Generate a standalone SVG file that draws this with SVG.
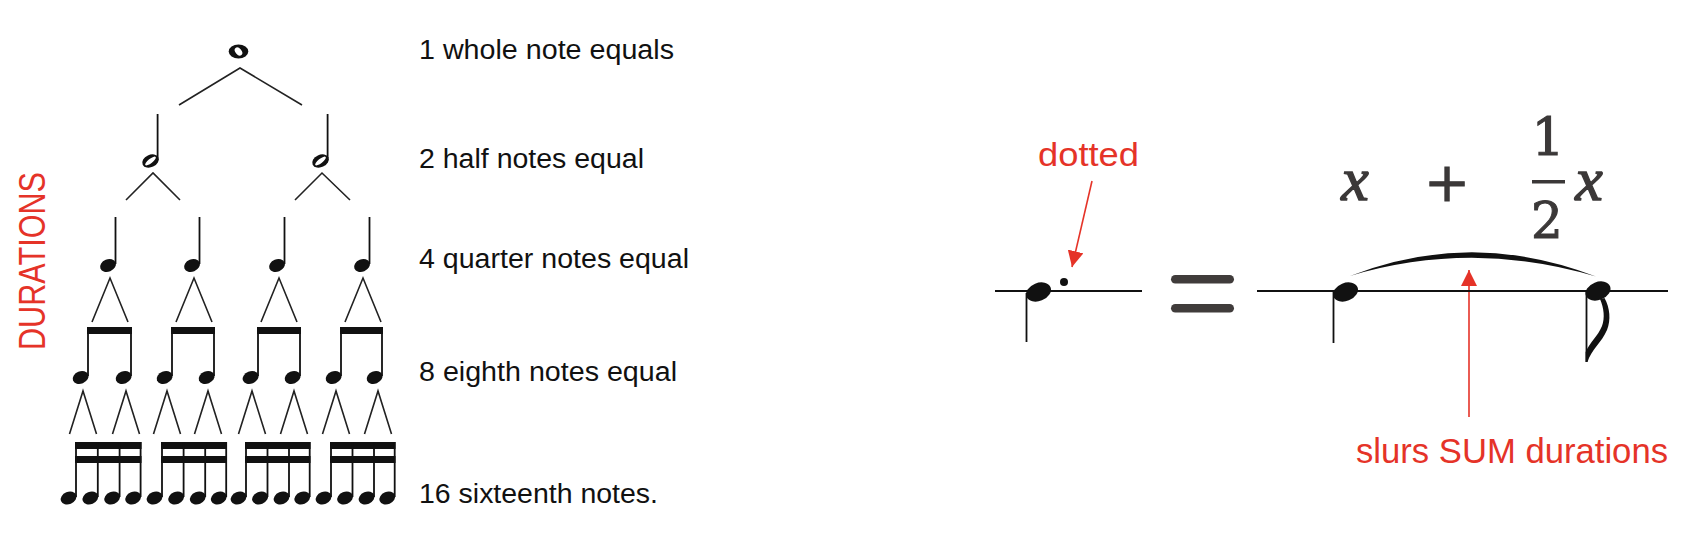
<svg xmlns="http://www.w3.org/2000/svg" xmlns:xlink="http://www.w3.org/1999/xlink" width="1690" height="546" viewBox="0 0 1690 546">
<style>
  .lbl{font-family:"Liberation Sans",Arial,sans-serif;font-size:27px;fill:#111}
  .red{font-family:"Liberation Sans",Arial,sans-serif;fill:#E53328}
  .stem{stroke:#111;stroke-width:1.8;fill:none}
  .conn{stroke:#222;stroke-width:1.6;fill:none;stroke-linejoin:miter}
  .ink{fill:#111}
  .beam{fill:#111}
  .staff{stroke:#111;stroke-width:2;fill:none}
  .math{fill:#3b3838;stroke:#3b3838}
  .arrow{stroke:#E53328;stroke-width:1.6;fill:none}
</style>
<defs>
  <ellipse id="h" rx="8.2" ry="6.1" transform="rotate(-22)" class="ink"/>
  <ellipse id="H" rx="13" ry="9" transform="rotate(-22)" class="ink"/>
  <marker id="ah" viewBox="0 0 16 16" refX="16" refY="8" markerWidth="16" markerHeight="16" markerUnits="userSpaceOnUse" orient="auto">
    <path d="M0,0 L16,8 L0,16 z" fill="#E53328"/>
  </marker>
</defs>
<rect width="1690" height="546" fill="#fff"/>

<text class="red" font-size="37" transform="translate(45,350) rotate(-90)" textLength="178" lengthAdjust="spacingAndGlyphs">DURATIONS</text>

<g id="connectors">
  <path class="conn" d="M179,105 L240,68 L302,105"/>
  <path class="conn" d="M126,200 L153,173 L180,200 M295,200 L322,173 L350,200"/>
  <path class="conn" d="M92,322 L110,278 L128,322 M176,322 L194,278 L212,322 M261,322 L279,278 L297,322 M345,322 L363,278 L381,322"/>
  <path class="conn" d="M69.5,434 L83,391 L96.5,434 M112.5,434 L126,391 L139.5,434 M153.5,434 L167,391 L180.5,434 M194.5,434 L208,391 L221.5,434 M238.5,434 L252,391 L265.5,434 M280.5,434 L294,391 L307.5,434 M322.5,434 L336,391 L349.5,434 M364.5,434 L378,391 L391.5,434"/>
  <line class="arrow" x1="1092" y1="181" x2="1072" y2="267" marker-end="url(#ah)"/>
  <line class="arrow" x1="1469" y1="417" x2="1469" y2="270" marker-end="url(#ah)"/>
</g>

<g id="whole-note">
  <ellipse cx="238.5" cy="51.5" rx="9.8" ry="7" class="ink"/>
  <ellipse cx="238.5" cy="51.5" rx="3" ry="4.6" transform="rotate(-40 238.5 51.5)" fill="#fff"/>
</g>

<g id="half-note-1">
  <ellipse cx="150.5" cy="161" rx="8.6" ry="6.2" transform="rotate(-25 150.5 161)" class="ink"/>
  <ellipse cx="150.5" cy="161" rx="6.6" ry="2.2" transform="rotate(-38 150.5 161)" fill="#fff"/>
  <line class="stem" x1="157.6" y1="114" x2="157.6" y2="160"/>
</g>
<g id="half-note-2">
  <ellipse cx="320.5" cy="161" rx="8.6" ry="6.2" transform="rotate(-25 320.5 161)" class="ink"/>
  <ellipse cx="320.5" cy="161" rx="6.6" ry="2.2" transform="rotate(-38 320.5 161)" fill="#fff"/>
  <line class="stem" x1="327.6" y1="114" x2="327.6" y2="160"/>
</g>

<g id="quarter-note-1"><line class="stem" x1="115.5" y1="217" x2="115.5" y2="264"/><use xlink:href="#h" href="#h" x="108" y="265.5"/></g>
<g id="quarter-note-2"><line class="stem" x1="199.5" y1="217" x2="199.5" y2="264"/><use xlink:href="#h" href="#h" x="192" y="265.5"/></g>
<g id="quarter-note-3"><line class="stem" x1="284.5" y1="217" x2="284.5" y2="264"/><use xlink:href="#h" href="#h" x="277" y="265.5"/></g>
<g id="quarter-note-4"><line class="stem" x1="369.5" y1="217" x2="369.5" y2="264"/><use xlink:href="#h" href="#h" x="362" y="265.5"/></g>

<g id="eighth-pair-1">
  <rect class="beam" x="87" y="327" width="45" height="7"/>
  <path class="stem" d="M88,327 V376 M131,327 V376"/>
  <use xlink:href="#h" href="#h" x="80.6" y="377.5"/><use xlink:href="#h" href="#h" x="123.6" y="377.5"/>
</g>
<g id="eighth-pair-2">
  <rect class="beam" x="171" y="327" width="44" height="7"/>
  <path class="stem" d="M172,327 V376 M214,327 V376"/>
  <use xlink:href="#h" href="#h" x="164.6" y="377.5"/><use xlink:href="#h" href="#h" x="206.6" y="377.5"/>
</g>
<g id="eighth-pair-3">
  <rect class="beam" x="257" y="327" width="44" height="7"/>
  <path class="stem" d="M258,327 V376 M300,327 V376"/>
  <use xlink:href="#h" href="#h" x="250.6" y="377.5"/><use xlink:href="#h" href="#h" x="292.6" y="377.5"/>
</g>
<g id="eighth-pair-4">
  <rect class="beam" x="340" y="327" width="43" height="7"/>
  <path class="stem" d="M341,327 V376 M382,327 V376"/>
  <use xlink:href="#h" href="#h" x="333.6" y="377.5"/><use xlink:href="#h" href="#h" x="374.6" y="377.5"/>
</g>

<g id="sixteenth-group-1">
  <rect class="beam" x="75" y="442" width="66.5" height="7"/><rect class="beam" x="75" y="456" width="66.5" height="7"/>
  <path class="stem" d="M76,442 V497 M97.8,442 V497 M119.6,442 V497 M140.6,442 V497"/>
  <use xlink:href="#h" href="#h" x="68.6" y="498"/><use xlink:href="#h" href="#h" x="90.4" y="498"/><use xlink:href="#h" href="#h" x="112.2" y="498"/><use xlink:href="#h" href="#h" x="133.2" y="498"/>
</g>
<g id="sixteenth-group-2">
  <rect class="beam" x="161" y="442" width="66" height="7"/><rect class="beam" x="161" y="456" width="66" height="7"/>
  <path class="stem" d="M162,442 V497 M183.6,442 V497 M205.2,442 V497 M226.2,442 V497"/>
  <use xlink:href="#h" href="#h" x="154.6" y="498"/><use xlink:href="#h" href="#h" x="176.2" y="498"/><use xlink:href="#h" href="#h" x="197.8" y="498"/><use xlink:href="#h" href="#h" x="218.8" y="498"/>
</g>
<g id="sixteenth-group-3">
  <rect class="beam" x="245" y="442" width="65.5" height="7"/><rect class="beam" x="245" y="456" width="65.5" height="7"/>
  <path class="stem" d="M246,442 V497 M267.5,442 V497 M289,442 V497 M309.7,442 V497"/>
  <use xlink:href="#h" href="#h" x="238.6" y="498"/><use xlink:href="#h" href="#h" x="260.1" y="498"/><use xlink:href="#h" href="#h" x="281.6" y="498"/><use xlink:href="#h" href="#h" x="302.3" y="498"/>
</g>
<g id="sixteenth-group-4">
  <rect class="beam" x="330" y="442" width="65.5" height="7"/><rect class="beam" x="330" y="456" width="65.5" height="7"/>
  <path class="stem" d="M331,442 V497 M352.5,442 V497 M374,442 V497 M394.7,442 V497"/>
  <use xlink:href="#h" href="#h" x="323.6" y="498"/><use xlink:href="#h" href="#h" x="345.1" y="498"/><use xlink:href="#h" href="#h" x="366.6" y="498"/><use xlink:href="#h" href="#h" x="387.3" y="498"/>
</g>

<g id="labels">
  <text class="lbl" x="419" y="59" textLength="255" lengthAdjust="spacingAndGlyphs">1 whole note equals</text>
  <text class="lbl" x="419" y="168" textLength="225" lengthAdjust="spacingAndGlyphs">2 half notes equal</text>
  <text class="lbl" x="419" y="268" textLength="270" lengthAdjust="spacingAndGlyphs">4 quarter notes equal</text>
  <text class="lbl" x="419" y="381" textLength="258" lengthAdjust="spacingAndGlyphs">8 eighth notes equal</text>
  <text class="lbl" x="419" y="503" textLength="239" lengthAdjust="spacingAndGlyphs">16 sixteenth notes.</text>
</g>

<g id="dotted-note">
  <line class="staff" x1="995" y1="291" x2="1142" y2="291"/>
  <line class="stem" x1="1026.5" y1="293" x2="1026.5" y2="342"/>
  <use xlink:href="#H" href="#H" x="1038.5" y="292"/>
  <circle cx="1064" cy="282" r="4" class="ink"/>
</g>
<text id="dotted-label" class="red" font-size="33" x="1038" y="166" textLength="101" lengthAdjust="spacingAndGlyphs">dotted</text>

<g id="equals">
  <rect x="1171" y="275" width="63" height="8.5" rx="4.25" fill="#403c3b"/>
  <rect x="1171" y="304" width="63" height="8.5" rx="4.25" fill="#403c3b"/>
</g>

<g id="tied-notes">
  <line class="staff" x1="1257" y1="291" x2="1668" y2="291"/>
  <line class="stem" x1="1333.5" y1="292" x2="1333.5" y2="343"/>
  <use xlink:href="#H" href="#H" x="1345.5" y="292"/>
  <line class="stem" x1="1586.5" y1="292" x2="1586.5" y2="362"/>
  <use xlink:href="#H" href="#H" x="1598" y="291"/>
  <path class="ink" d="M1585.6,362 L1585.6,352 C1590,342 1598,336 1602,326 C1605,318 1604,308 1600,299 L1604.5,298 C1610,308 1611,320 1607,330 C1602,342 1591,350 1587.5,362 Z"/>
  <path class="ink" d="M1350,276 Q1472,228.5 1596,276.5 Q1472,239.5 1350,276 Z"/>
</g>
<text id="slur-label" class="red" font-size="35" x="1356" y="463" textLength="312" lengthAdjust="spacingAndGlyphs">slurs SUM durations</text>

<g id="equation" class="math">
  <text x="1355" y="200" font-family="'Liberation Serif',serif" font-style="italic" font-size="62" text-anchor="middle" stroke-width="1.4">x</text>
  <text x="1447" y="201" font-family="'DejaVu Serif',serif" font-size="55" text-anchor="middle" stroke-width="1">+</text>
  <text x="1548" y="155" font-family="'DejaVu Serif',serif" font-size="52" text-anchor="middle" stroke-width="1">1</text>
  <rect x="1532" y="180" width="33" height="3.5" stroke="none"/>
  <text x="1547" y="238" font-family="'DejaVu Serif',serif" font-size="50" text-anchor="middle" stroke-width="1">2</text>
  <text x="1589" y="200" font-family="'Liberation Serif',serif" font-style="italic" font-size="62" text-anchor="middle" stroke-width="1.4">x</text>
</g>
</svg>
